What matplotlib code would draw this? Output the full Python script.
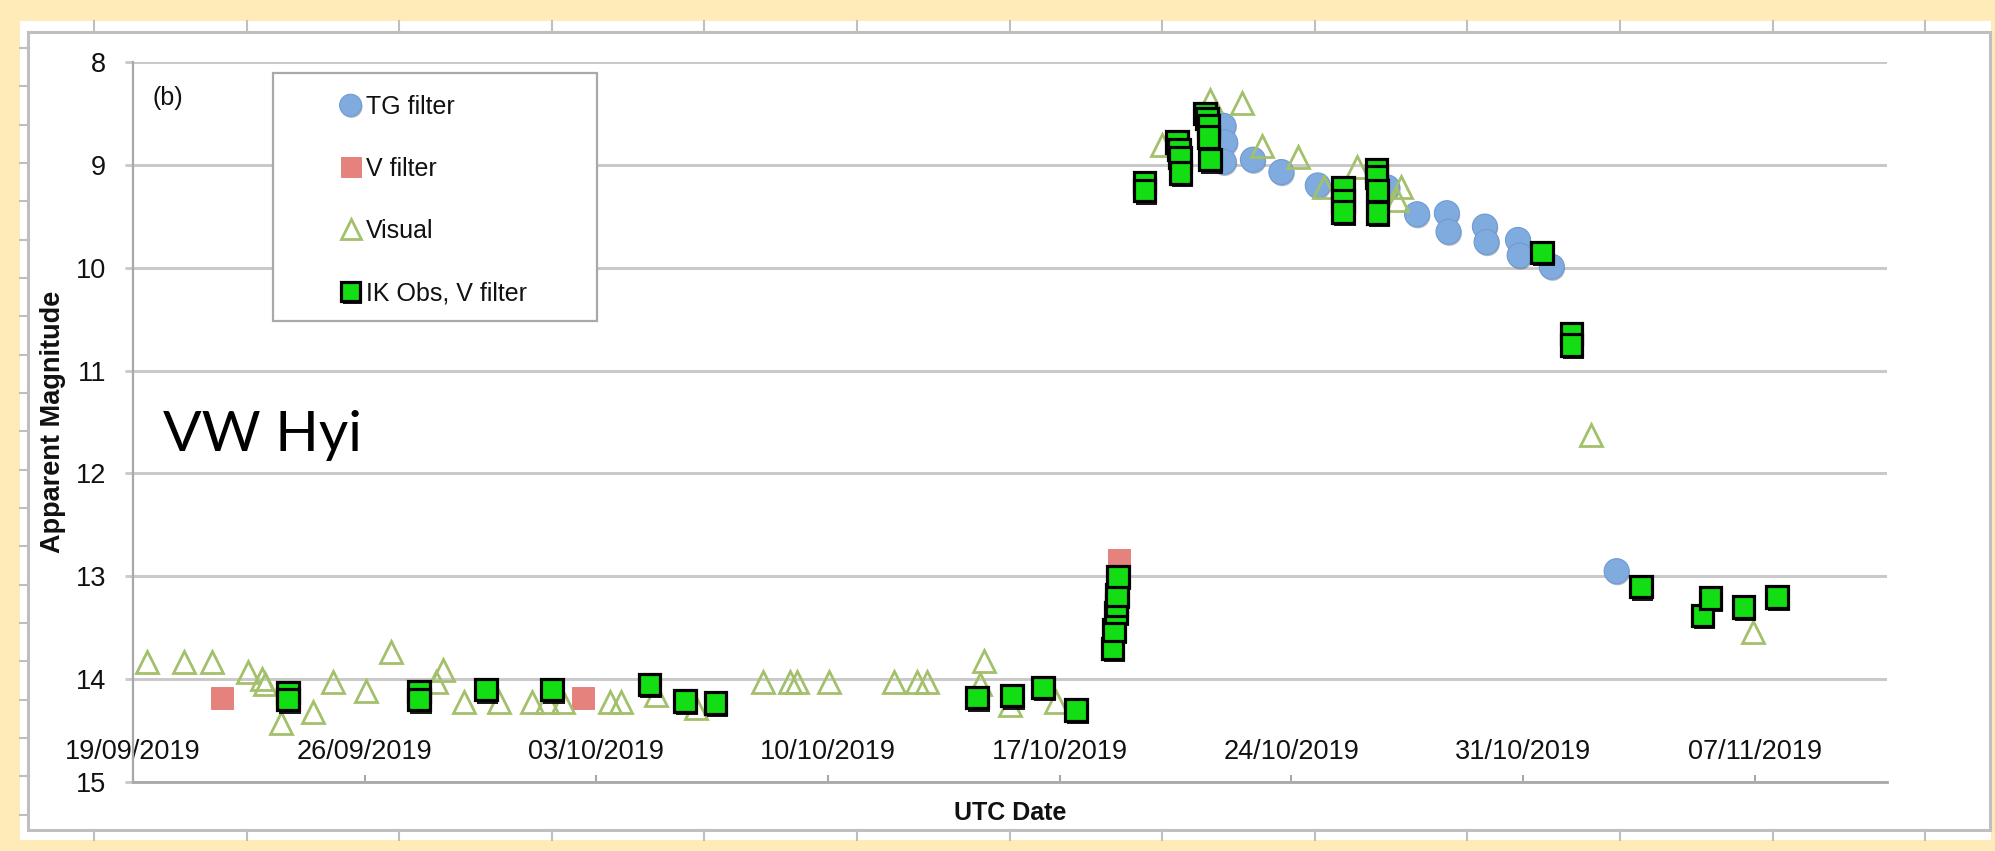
import matplotlib
matplotlib.use("Agg")
import matplotlib.pyplot as plt
import matplotlib.patheffects as pe
from matplotlib.lines import Line2D
from matplotlib.patches import Rectangle
from datetime import datetime, timedelta

# ---------------- data (days after 19/09/2019, apparent magnitude) ----------------
start_date = datetime(2019, 9, 19)
end_days = 53
tick_labels = ["19/09/2019", "26/09/2019", "03/10/2019", "10/10/2019",
               "17/10/2019", "24/10/2019", "31/10/2019", "07/11/2019"]
y_ticks = [8, 9, 10, 11, 12, 13, 14, 15]

tg_day = [32.95, 33.0, 32.96, 33.84, 34.7, 35.8, 37.9, 38.8, 39.7, 39.75,
          40.85, 40.9, 41.85, 41.9, 42.87, 44.83]
tg_mag = [8.62, 8.78, 8.97, 8.95, 9.07, 9.2, 9.22, 9.48, 9.47, 9.65,
          9.6, 9.75, 9.73, 9.88, 9.99, 12.95]

v_day = [2.7, 13.6, 29.8]
v_mag = [14.18, 14.18, 12.84]

vis_day = [0.42, 1.55, 2.4, 3.48, 3.9, 4.0, 4.47, 5.45, 6.04, 7.04, 7.8,
           9.15, 9.37, 10.0, 11.06, 12.05, 12.5, 13.0, 14.4, 14.75, 15.8,
           17.0, 19.04, 19.85, 20.05, 21.03, 23.0, 23.7, 24.0, 25.6, 25.7,
           26.5, 27.9, 31.1, 32.54, 33.5, 34.1, 35.2, 36.0, 37.0, 38.2,
           38.3, 44.05, 48.94]
vis_mag = [13.83, 13.83, 13.83, 13.93, 14.0, 14.05, 14.43, 14.32, 14.03, 14.12, 13.74,
           14.03, 13.91, 14.22, 14.22, 14.22, 14.22, 14.22, 14.22, 14.22, 14.15,
           14.28, 14.03, 14.03, 14.03, 14.03, 14.03, 14.03, 14.03, 14.05, 13.82,
           14.25, 14.22, 8.81, 8.37, 8.4, 8.82, 8.92, 9.22, 9.02, 9.34,
           9.22, 11.63, 13.54]

ik_day = [4.68, 4.68, 8.64, 8.64, 10.66, 12.66, 15.6, 16.68, 17.6, 25.5,
          26.56, 27.5, 28.5,
          29.6, 29.65, 29.7, 29.72, 29.74, 29.76,
          30.57, 30.57,
          31.55, 31.6, 31.63, 31.65,
          32.4, 32.45, 32.5, 32.5, 32.55,
          36.56, 36.56, 36.56,
          37.58, 37.58, 37.6, 37.6,
          42.57, 43.47, 43.47, 45.56, 47.43, 47.67, 48.67, 49.67]
ik_mag = [14.13, 14.2, 14.12, 14.2, 14.1, 14.1, 14.05, 14.21, 14.23, 14.18,
          14.16, 14.08, 14.3,
          13.7, 13.52, 13.35, 13.28, 13.18, 13.0,
          9.17, 9.25,
          8.78, 8.85, 8.93, 9.08,
          8.5, 8.55, 8.62, 8.73, 8.95,
          9.22, 9.35, 9.46,
          9.05, 9.12, 9.25, 9.47,
          9.85, 10.64, 10.75, 13.1, 13.38, 13.21, 13.3, 13.2]


def to_dates(days):
    return [start_date + timedelta(days=d) for d in days]


# ---------------- figure geometry (pixels) ----------------
W, H = 1995, 851
DPI = 100


def fx(px):
    return px / W


def fy(py):
    return 1 - py / H


YELLOW = "#FFEBB7"
GRID = "#C8C8C8"
FRAME = "#BFBFBF"
AXCOL = "#A8A8A8"
TXT = "#111111"
FONT = "Liberation Sans"

fig = plt.figure(figsize=(W / DPI, H / DPI), dpi=DPI, facecolor=YELLOW)

# white chart panel + outer frame with ruler ticks
fig.add_artist(Rectangle((fx(20), fy(840)), fx(1991) - fx(20), fy(21) - fy(840),
                         transform=fig.transFigure, facecolor="white",
                         edgecolor="none", zorder=0))
fig.add_artist(Rectangle((fx(28), fy(830)), fx(1990) - fx(28), fy(32) - fy(830),
                         transform=fig.transFigure, facecolor="none",
                         edgecolor=FRAME, lw=2.2, zorder=1))
k = 0
while 94 + 152.6 * k < 1990:
    xp = 94 + 152.6 * k
    fig.add_artist(Line2D([fx(xp), fx(xp)], [fy(21), fy(32)], transform=fig.transFigure,
                          color=FRAME, lw=1.5))
    fig.add_artist(Line2D([fx(xp), fx(xp)], [fy(830), fy(840)], transform=fig.transFigure,
                          color=FRAME, lw=1.5))
    k += 1
k = 0
while 48 + 38.33 * k < 830:
    yp = 48 + 38.33 * k
    fig.add_artist(Line2D([fx(20), fx(28)], [fy(yp), fy(yp)], transform=fig.transFigure,
                          color=FRAME, lw=1.5))
    k += 1

# plot area
ax_left, ax_right, ax_top, ax_bottom = 133, 1887, 62, 782
ax = fig.add_axes([fx(ax_left), fy(ax_bottom), fx(ax_right) - fx(ax_left),
                   fy(ax_top) - fy(ax_bottom)])
ax.set_facecolor("none")
ax.set_zorder(2)

shadow_sq = [pe.SimplePatchShadow(offset=(1.4, -2.4), shadow_rgbFace="black", alpha=0.9),
             pe.Normal()]
shadow_c = [pe.SimplePatchShadow(offset=(0.6, -1.2), shadow_rgbFace="#203050", alpha=0.35),
            pe.Normal()]

l_tg, = ax.plot(to_dates(tg_day), tg_mag, ls="none", marker="o", ms=18,
                mfc="#80ABDE", mec="#6F9BD3", mew=0.8, path_effects=shadow_c,
                label="TG filter", zorder=3)
l_v, = ax.plot(to_dates(v_day), v_mag, ls="none", marker="s", ms=16.5,
               mfc="#E6827D", mec="#E07A75", mew=0.6, label="V filter", zorder=4)
l_vis, = ax.plot(to_dates(vis_day), vis_mag, ls="none", marker="^", ms=16.5,
                 mfc="none", mec="#A3C06B", mew=2.0, label="Visual", zorder=5)
l_ik, = ax.plot(to_dates(ik_day), ik_mag, ls="none", marker="s", ms=15.5,
                mfc="#13DD13", mec="black", mew=2.3, path_effects=shadow_sq,
                label="IK Obs, V filter", zorder=6)

# axes
ax.set_ylim(15, 8)
ax.set_yticks(y_ticks)
ax.set_yticklabels([str(v) for v in y_ticks])
tick_dates = [datetime.strptime(s, "%d/%m/%Y") for s in tick_labels]
ax.set_xticks(tick_dates)
ax.set_xticklabels(tick_labels)
ax.set_xlim(start_date, start_date + timedelta(days=end_days))

ax.yaxis.grid(True, color=GRID, lw=2.1)
ax.xaxis.grid(False)
ax.set_axisbelow(True)
for s in ("top", "right"):
    ax.spines[s].set_visible(False)
ax.spines["left"].set_color(AXCOL)
ax.spines["left"].set_linewidth(1.6)
ax.spines["bottom"].set_color(AXCOL)
ax.spines["bottom"].set_linewidth(2.0)

ax.tick_params(axis="y", direction="out", length=6, width=2.0, color=GRID,
               pad=13.5, labelsize=19.5, labelcolor=TXT)
ax.tick_params(axis="x", direction="in", length=5, width=1.5, color=AXCOL,
               pad=-31, labelsize=19.5, labelcolor=TXT)
for lab in ax.get_xticklabels() + ax.get_yticklabels():
    lab.set_fontfamily(FONT)

ax.set_xlabel("UTC Date", fontsize=18, fontweight="bold", fontfamily=FONT,
              color=TXT, labelpad=14)
ax.set_ylabel("Apparent Magnitude", fontsize=19.5, fontweight="bold", fontfamily=FONT,
              color=TXT)
ax.yaxis.set_label_coords((66 - ax_left) / (ax_right - ax_left), 0.5)

# legend (box drawn separately, content centred in it)
fig.add_artist(Rectangle((fx(273), fy(321)), fx(597) - fx(273), fy(73) - fy(321),
                         transform=fig.transFigure, facecolor="white",
                         edgecolor="#A9A9A9", lw=1.6, zorder=3))
leg = fig.legend(handles=[l_tg, l_v, l_vis, l_ik], loc="center",
                 bbox_to_anchor=(fx(433), fy(200)), bbox_transform=fig.transFigure,
                 frameon=False, prop={"family": FONT, "size": 18},
                 handlelength=0.9, handletextpad=0.15, labelspacing=1.52,
                 markerscale=0.88, borderpad=0)
for t in leg.get_texts():
    t.set_color(TXT)
leg.set_zorder(10)

# annotations
fig.text(fx(152), fy(98), "(b)", fontsize=18, fontfamily=FONT, color=TXT,
         ha="left", va="center", zorder=5)
fig.text(fx(163), fy(451), "VW Hyi", fontsize=41, fontfamily="Lato", color="black",
         ha="left", va="baseline", zorder=5)

fig.savefig("out.png", dpi=DPI, facecolor=YELLOW)
